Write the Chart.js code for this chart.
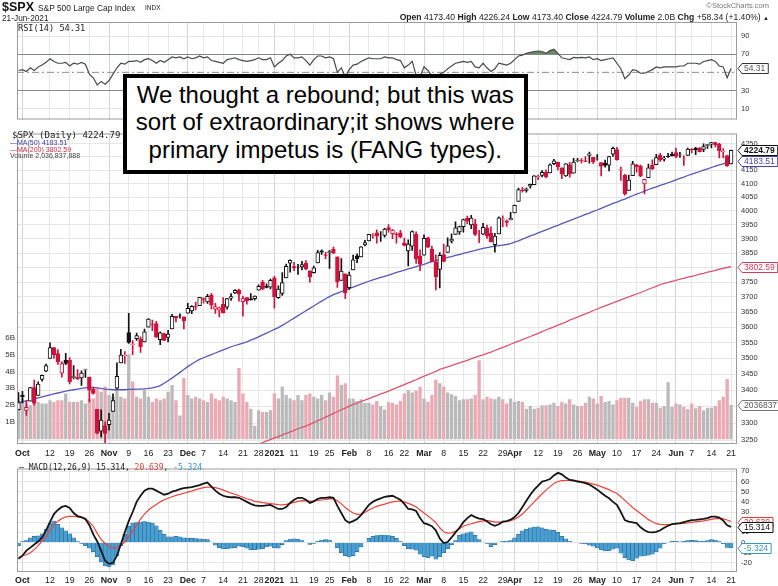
<!DOCTYPE html>
<html>
<head>
<meta charset="utf-8">
<title>$SPX S&amp;P 500 Large Cap Index</title>
<script src="https://cdn.jsdelivr.net/npm/chart.js@4.4.1/dist/chart.umd.min.js"></script>
<style>
  html, body { margin: 0; padding: 0; background: #fff; }
  #page { position: relative; width: 778px; height: 586px; overflow: hidden; font-family: Arial, "Liberation Sans", sans-serif; color: #111; }
  #page canvas { position: absolute; left: 0; }
  .t { position: absolute; white-space: nowrap; line-height: 1; z-index: 2; }
  .mono { font-family: "DejaVu Sans Mono", monospace; }
  #note { position: absolute; left: 122.5px; top: 74px; width: 405.5px; height: 100px; box-sizing: border-box;
          border: 4px solid #000; background: #fff; z-index: 3; color: #000;
          font: 24px Arial, "Liberation Sans", sans-serif; line-height: 27.8px; text-align: center; padding-top: 2.5px; }
</style>
</head>
<body>
<div id="page">
  <canvas id="rsiChart" width="778" height="128" style="top:0"></canvas>
  <canvas id="priceChart" width="778" height="335" style="top:125px"></canvas>
  <canvas id="macdChart" width="778" height="126" style="top:460px"></canvas>

  <div class="t" style="left:2px;top:0px;font:bold 12.5px Arial">$SPX</div>
  <div class="t" style="left:38px;top:2.5px;font:8.4px Arial;color:#222">S&amp;P 500 Large Cap Index</div>
  <div class="t" style="left:145px;top:3.5px;font:6.5px Arial;color:#222">INDX</div>
  <div class="t" style="left:2px;top:12.5px;font:8.3px Arial;color:#222">21-Jun-2021</div>
  <div class="t" style="right:9px;top:1px;font:7.5px Arial;color:#777">&#169;StockCharts.com</div>
  <div class="t" style="right:9px;top:11.5px;font:8.6px Arial;color:#222"><b>Open</b> 4173.40 <b>High</b> 4226.24 <b>Low</b> 4173.40 <b>Close</b> 4224.79 <b>Volume</b> 2.0B <b>Chg</b> +58.34 (+1.40%) <span style="font-size:6px">&#9650;</span></div>

  <div class="t mono" style="left:18px;top:23.5px;font-size:8.6px;color:#222">RSI(14) 54.31</div>

  <div class="t mono" style="left:12px;top:131px;font-size:9px;color:#222">$SPX (Daily) 4224.79</div>
  <div class="t" style="left:10px;top:139px;font:7px Arial;color:#3a3aa8">&#8212;MA(50) 4183.51</div>
  <div class="t" style="left:10px;top:145.5px;font:7px Arial;color:#cc2a4a">&#8212;MA(200) 3802.59</div>
  <div class="t" style="left:10px;top:152px;font:7px Arial;color:#444">Volume 2,036,837,888</div>

  <div class="t mono" style="left:19px;top:463.5px;font-size:8px;color:#222">&#8212; MACD(12,26,9) 15.314, <span style="color:#e0403a">20.639</span>, <span style="color:#3a94c8">-5.324</span></div>

  <div id="note">We thought a rebound; but this was<br>sort of extraordinary;it shows where<br>primary impetus is (FANG types).</div>
</div>

<script>
// trading days 30-Sep-2020 .. 21-Jun-2021, index 0 = 30-Sep
const tickDays   = [1, 8, 13, 18, 23, 28, 33, 38, 43, 47, 52, 57, 61, 65, 70, 75, 79, 84, 89, 94, 98,
                    103, 108, 113, 118, 123, 126, 132, 137, 142, 147, 152, 157, 162, 167, 171, 176, 181];
const tickLabels = ['Oct', '12', '19', '26', 'Nov', '9', '16', '23', 'Dec', '7', '14', '21', '28', '2021', '11', '19', '25', 'Feb', '8', '16', '22',
                    'Mar', '8', '15', '22', '29', 'Apr', '12', '19', '26', 'May', '10', '17', '24', 'Jun', '7', '14', '21'];
const monthLabels = ['Oct', 'Nov', 'Dec', '2021', 'Feb', 'Mar', 'Apr', 'May', 'Jun'];
const priceTicks = [3250, 3300, 3350, 3400, 3450, 3500, 3550, 3600, 3650, 3700, 3750, 3800, 3850, 3900, 3950,
                    4000, 4050, 4100, 4150, 4200, 4250];
const volTicks  = [1, 2, 3, 4, 5, 6];
const rsiTicks  = [10, 30, 50, 70, 90];
const macdTicks = [-20, -10, 0, 10, 20, 30, 40, 50, 60, 70];

const open = [3341.2,3385.9,3338.9,3367.3,3408.7,3384.6,3434.3,3459.7,3500.0,3534.0,
  3515.5,3453.7,3493.5,3493.7,3439.4,3439.9,3438.5,3464.9,3441.4,3403.2,
  3342.5,3277.2,3293.6,3296.2,3336.3,3406.5,3485.7,3508.3,3583.0,3543.3,
  3563.2,3562.7,3552.6,3600.2,3610.3,3612.1,3559.4,3579.3,3566.8,3594.5,
  3635.5,3638.6,3634.2,3645.9,3653.8,3668.3,3670.9,3694.7,3683.1,3706.0,
  3659.1,3656.1,3675.3,3666.4,3696.3,3713.7,3722.4,3684.3,3698.1,3693.4,
  3694.0,3723.0,3750.0,3736.2,3733.3,3764.6,3698.0,3712.2,3764.7,3815.1,
  3803.1,3801.6,3802.2,3815.0,3788.7,3781.9,3816.2,3857.5,3844.2,3851.7,
  3863.0,3836.8,3755.8,3778.1,3731.2,3791.8,3840.3,3836.7,3878.3,3892.6,
  3910.5,3920.8,3916.4,3911.7,3939.6,3918.5,3915.9,3921.2,3885.6,3857.1,
  3873.7,3915.8,3839.7,3842.5,3903.6,3864.0,3818.5,3793.6,3844.4,3851.9,
  3892.0,3915.5,3924.5,3943.0,3973.6,3949.6,3953.5,3913.1,3916.5,3937.6,
  3919.9,3879.3,3917.1,3969.3,3963.3,3967.3,3992.8,4034.4,4075.6,4074.3,
  4090.0,4096.1,4124.7,4130.1,4141.6,4139.8,4174.1,4179.8,4159.2,4128.4,
  4170.5,4138.8,4185.0,4188.3,4185.1,4206.1,4198.1,4192.0,4179.0,4177.1,
  4169.1,4210.3,4228.3,4150.3,4130.6,4075.0,4129.6,4169.9,4165.9,4098.5,
  4122.0,4168.6,4170.2,4205.9,4191.6,4201.9,4210.8,4216.5,4206.8,4191.4,
  4206.1,4229.3,4233.8,4233.0,4228.6,4242.9,4248.3,4255.3,4248.9,4220.4,
  4204.8,4173.4];
const high = [3393.6,3397.2,3369.1,3409.6,3431.6,3426.3,3447.3,3482.3,3549.9,3534.0,
  3527.9,3489.1,3515.8,3502.4,3476.9,3464.9,3460.5,3466.5,3441.4,3409.5,
  3342.5,3341.1,3304.9,3330.1,3389.5,3486.3,3529.1,3521.6,3646.0,3557.2,
  3581.2,3569.0,3593.7,3628.5,3623.1,3619.1,3585.2,3581.2,3589.8,3642.3,
  3635.5,3644.3,3634.2,3678.5,3671.0,3682.7,3699.2,3697.4,3708.5,3712.4,
  3678.5,3665.9,3697.6,3695.3,3711.3,3725.1,3726.7,3702.9,3698.3,3711.2,
  3703.8,3740.5,3756.1,3744.6,3760.2,3770.0,3737.8,3783.0,3811.6,3826.7,
  3817.9,3810.8,3821.0,3823.6,3788.7,3804.5,3859.8,3861.5,3852.3,3859.2,
  3870.9,3836.8,3830.5,3778.1,3784.3,3843.1,3847.5,3872.4,3894.6,3915.8,
  3918.4,3931.5,3926.0,3937.2,3950.4,3933.6,3922.0,3930.4,3902.9,3896.0,
  3928.7,3925.0,3861.1,3914.5,3906.4,3874.5,3843.7,3851.7,3881.1,3903.8,
  3917.4,3960.3,3945.0,3970.1,3981.0,3983.9,3969.6,3930.1,3955.3,3949.1,
  3942.1,3919.5,3978.2,3981.8,3968.0,3994.4,4020.6,4083.4,4086.2,4083.1,
  4098.2,4129.5,4131.8,4148.0,4151.7,4173.5,4191.3,4180.8,4159.2,4175.0,
  4179.6,4194.2,4194.2,4193.4,4201.5,4218.8,4198.1,4209.4,4179.0,4187.7,
  4202.7,4238.0,4236.4,4162.0,4134.7,4131.6,4183.1,4171.9,4169.2,4116.9,
  4172.8,4188.7,4209.5,4213.4,4202.6,4213.4,4218.4,4234.1,4217.4,4204.4,
  4233.5,4232.3,4236.7,4237.1,4249.7,4248.4,4255.6,4257.2,4251.9,4232.3,
  4204.8,4226.24];
const low = [3340.5,3361.4,3323.7,3367.3,3354.5,3384.6,3428.2,3458.1,3499.6,3500.9,
  3480.6,3440.9,3480.5,3419.9,3435.7,3433.1,3415.3,3440.5,3364.9,3388.7,
  3268.9,3259.8,3233.9,3279.7,3336.3,3405.2,3485.7,3484.3,3547.5,3511.9,
  3557.0,3518.6,3552.6,3600.2,3588.7,3567.3,3543.8,3556.9,3552.8,3594.5,
  3617.8,3629.3,3594.4,3645.9,3644.8,3657.2,3670.9,3678.9,3678.8,3660.5,
  3645.2,3633.4,3645.8,3659.6,3688.6,3710.9,3685.8,3636.5,3676.2,3689.3,
  3689.3,3723.0,3723.3,3730.2,3726.9,3662.7,3695.1,3705.3,3764.7,3783.6,
  3789.0,3776.5,3791.5,3792.9,3749.6,3780.4,3816.2,3845.1,3830.4,3797.2,
  3847.8,3732.5,3755.8,3694.1,3725.6,3791.8,3816.7,3836.7,3874.9,3892.6,
  3902.6,3884.9,3890.4,3905.8,3923.9,3900.4,3885.0,3903.1,3874.7,3805.6,
  3859.6,3814.0,3789.5,3842.5,3868.6,3818.9,3723.3,3730.2,3819.3,3851.9,
  3885.7,3915.5,3915.2,3923.5,3953.4,3935.7,3910.9,3886.8,3914.2,3901.8,
  3889.1,3853.5,3917.1,3943.3,3944.4,3967.0,3992.8,4034.4,4068.1,4068.3,
  4082.5,4095.5,4114.8,4124.4,4120.9,4139.8,4170.8,4150.5,4118.4,4126.4,
  4123.7,4138.8,4182.4,4176.2,4181.8,4176.8,4174.9,4188.0,4128.6,4160.9,
  4147.3,4201.6,4188.1,4111.5,4056.9,4075.0,4129.6,4142.7,4126.0,4061.4,
  4122.0,4151.7,4170.2,4182.5,4184.1,4197.8,4203.6,4197.6,4198.3,4167.9,
  4206.1,4215.7,4208.4,4218.7,4220.3,4232.3,4234.1,4238.4,4196.1,4196.1,
  4164.4,4173.4];
const close = [3363.0,3380.8,3348.4,3408.6,3361.0,3419.4,3446.8,3477.1,3534.2,3511.9,
  3488.7,3483.3,3483.8,3426.9,3443.1,3435.6,3453.5,3465.4,3401.0,3390.7,
  3271.0,3310.1,3270.0,3310.2,3369.2,3443.4,3510.5,3509.4,3550.5,3545.5,
  3572.7,3537.0,3585.2,3626.9,3609.5,3567.8,3581.9,3557.5,3577.6,3635.4,
  3629.7,3638.4,3621.6,3662.5,3669.0,3666.7,3699.1,3692.0,3702.3,3672.8,
  3668.1,3663.5,3647.5,3694.6,3701.2,3722.5,3709.4,3694.9,3687.3,3690.0,
  3703.1,3735.4,3727.0,3732.0,3756.1,3700.7,3726.9,3748.1,3803.8,3824.7,
  3799.6,3801.2,3809.8,3795.5,3768.3,3798.9,3851.9,3853.1,3841.5,3855.4,
  3849.6,3750.8,3787.4,3714.2,3773.9,3826.3,3830.2,3871.7,3886.8,3915.6,
  3911.2,3909.9,3916.4,3934.8,3932.6,3931.3,3914.0,3906.7,3876.5,3881.4,
  3925.4,3829.3,3811.2,3901.8,3870.3,3819.7,3768.5,3841.9,3821.4,3875.4,
  3898.8,3939.3,3943.3,3968.9,3962.7,3974.1,3915.5,3913.1,3940.6,3910.5,
  3889.1,3909.5,3974.5,3971.1,3958.6,3972.9,4019.9,4077.9,4073.9,4080.0,
  4097.2,4128.8,4128.0,4141.6,4124.7,4170.4,4185.5,4163.3,4134.9,4173.4,
  4135.0,4180.2,4187.6,4186.7,4183.2,4211.5,4181.2,4192.7,4164.7,4167.6,
  4201.6,4232.6,4188.4,4152.1,4063.0,4112.5,4173.9,4163.3,4127.8,4115.7,
  4159.1,4155.9,4197.1,4188.1,4196.0,4200.9,4204.1,4202.0,4208.1,4192.9,
  4229.9,4226.5,4227.3,4219.6,4239.2,4247.4,4255.2,4246.6,4223.7,4221.9,
  4166.5,4224.79];
// volume, billions of shares
const volume = [2.3,
  2.4,2.1,2.0,2.4,2.2,2.1,2.1,2.3,2.2,2.3,2.3,2.7,2.2,2.2,2.2,2.3,2.1,2.4,2.4,3.0,2.8,3.1,
  2.6,2.5,3.0,2.5,2.4,5.0,3.4,2.5,2.4,2.9,2.5,2.2,2.4,2.3,2.4,2.8,3.2,2.3,1.4,3.6,
  2.6,2.4,2.5,2.4,2.3,2.2,2.7,2.4,2.3,2.5,2.4,2.3,2.2,4.2,2.7,2.2,1.8,0.8,1.7,1.6,1.6,1.7,
  2.7,2.4,3.1,2.6,2.4,2.3,2.6,2.3,2.6,2.7,2.5,2.4,2.6,2.3,2.75,2.5,3.75,3.2,3.3,
  2.4,2.4,2.25,2.35,2.15,2.15,2.05,2.25,1.95,1.75,2.2,2.15,2.05,2.25,2.7,2.9,2.75,2.85,3.1,
  2.4,2.2,2.6,3.5,3.3,3.1,2.75,2.65,2.55,2.3,2.35,2.35,2.4,2.6,4.65,2.35,2.5,2.4,2.35,2.5,2.35,2.1,2.4,
  2.2,2.25,2.2,1.8,1.95,1.8,1.85,2.0,2.0,2.05,2.15,1.95,2.2,2.1,2.35,2.05,1.95,1.95,2.15,2.5,2.4,
  2.1,2.55,2.2,2.25,2.05,2.3,2.45,2.45,2.45,2.15,1.9,2.25,2.35,2.35,2.15,2.15,1.85,1.95,3.35,1.9,
  2.1,2.05,1.9,1.78,2.1,1.82,1.95,1.7,1.85,1.85,1.95,2.3,2.5,3.55,2.036837888];
const ma50 = [3362,3365,3368,3371,3374,3377,3380,3383,3386,3389,3392,3395,3398,3400,3402,3404,3406,3408,3410,
  3409,3408,3406,3404,3403,3402,3402,3402,3402,3403,3403,3404,3404,3405,3406,3408,3411,3415,
  3422,3430,3438,3447,3456,3465,3474,3482,3490,3497,
  3502,3507,3512,3517,3522,3527,3532,3537,3541,3545,3549,3553,3558,
  3563,3569,3575,3581,3587,3593,3599,3606,
  3614,3622,3630,3638,3646,3654,3662,3670,3678,3686,3694,3701,3708,
  3713,3718,3723,3728,3733,3738,3743,3748,3753,3758,3762,3766,3770,
  3774,3778,3783,3787,3791,3795,3799,3803,3807,3811,3816,3820,
  3824,3828,3831,3835,3838,3842,3845,3849,3852,3856,3859,3863,3866,
  3869,3872,3874,3876,3878,3880,3883,
  3888,3893,3899,3904,3910,3915,3921,3926,3932,3937,3943,3948,3954,3959,3965,3970,3976,3981,3987,3992,3998,4003,4009,
  4015,4021,4027,4032,4038,4043,4049,4055,4061,4066,4072,4078,
  4083,4088,4093,4098,4103,4108,4114,4119,4124,4130,4135,4140,4145,
  4150,4155,4160,4165,4170,4174,4179,4183.51];
// MA(200) is below the visible price range before day 55
const ma200Start = 55;
const ma200 = [3210,3215,3220,3225,3229,3234,3239,3243,3248,3252,3257,3261,3266,3270,3275,3279,3284,3288,3292,3297,
  3302,3308,3313,3319,3324,3330,3335,3341,3346,3352,
  3357,3361,3366,3370,3375,3380,3384,3389,3393,3398,
  3403,3408,3413,3418,3423,3428,3433,3439,3444,3449,3454,3459,3465,
  3469,3473,3477,3482,3486,3490,3494,3499,3503,3507,3511,3516,3520,
  3525,3530,3535,3540,3545,3550,3555,3560,3565,3570,3575,3580,3586,
  3591,3596,3601,3607,3612,3617,3623,3628,3633,3639,3644,3649,3655,3660,3665,
  3670,3675,3680,3685,3690,3695,3700,3705,3710,3715,3720,3726,3731,3736,3742,
  3746,3749,3753,3756,3760,3763,3767,3770,3773,3777,3780,3784,3787,3790,3794,3797,3800,3802.59];
const rsi = [52,53,51,55,52,56,58,61,65,62,
  60,60,61,57,60,59,61,59,48,44,
  36,40,37,41,48,55,60,59,62,62,
  63,61,64,65,63,60,63,61,64,67,
  66,67,65,67,65,66,68,66,67,63,
  62,61,60,64,65,66,64,63,62,63,
  64,66,64,64,66,56,60,63,68,70,
  66,66,67,63,58,64,68,68,66,67,
  65,50,55,45,53,58,59,62,64,66,
  65,65,65,67,66,66,64,63,55,58,
  62,47,45,56,52,46,41,48,50,54,
  57,60,61,62,61,62,56,55,60,55,
  51,54,60,59,58,60,64,68,69,71,
  72,73,73.5,73,71,74,75.5,71,66,65,
  64,66.5,66,66.5,66,67,64,65,63,64,
  65,66,60,54,43,47,53,52,49,49,
  51,53,56,55,56,56,56,56,57,57,
  60,60,60,59,62,63,64,62,57,56,
  44,54.31];
const macd = [-16,-13,-8,-5,-2,1,5,12,20,28,
  32,35,36,34,29,26,25,23,17,8,
  1,-8,-18,-21,-20,-13,-2,10,21,30,
  40,46,51,53,53,51,49,47,48,50,
  51,52.5,53.5,54,54.5,55.5,56.5,58,59,55,
  51,48,46,45,44.5,44.5,44,42,40,38,
  36.5,36,36,36.5,37,35,33,33,35,39,
  42,44,44,42,39,40.5,43,44,44,44.5,
  44,36,29,22,19.5,21,23,27,32,37,
  40,42,43.5,45,45.5,46,44,42,38,33,
  32.5,31,24,19,17.8,16,12,4,-0.5,0.5,
  5,10,14.5,20,24,27,25,23.5,23,21,
  18,16.5,18,20.5,21,22.5,25,29,35,41,
  47,52,56,60,61,62.5,66,68.5,67,64,
  61.5,61,60,59.5,58.5,57,54.5,52,49,46,
  43.5,40,37,30,22,20.5,19.8,19,15,12,
  10.3,9.9,10.5,12,14.5,16.5,18,18.5,19,20,
  21,22,22.2,22.7,23.2,24,25.5,25.5,24.5,21.5,
  17,15.314];
const signal = [-15,-13,-12,-10,-7,-3,1.5,6,12,17.5,
  21,23.5,25.3,25.8,25.8,25.3,24.5,23.8,20,16,
  9,3,-1,-4,-5.6,-5.5,-3,0.5,6,11,
  17,23,28,32,35,37.5,40,42,43.5,45,
  46.3,47.3,48.5,49.5,50.5,52,53,54,54.5,54.5,
  54,53,51.5,50,48.5,47.5,46,44.5,43,42,
  40.5,40,39.3,38.8,38.3,37.8,37.2,37,37.5,38.5,
  39.5,40.5,41.2,41,40.8,41,41.3,41.8,42.3,43,
  43,41,38,34.5,31.5,29,27.7,28,29.5,32,
  34,35.5,36.8,37.8,39,40,40.5,41,40,38.5,
  37,35,32,29,26,23,19.5,14.5,10.5,9.3,
  9.5,11,13.5,16,17.5,18.5,19.5,20.5,21.3,21.5,
  21,20,20,20.3,20.7,21.5,23,25,28,32,
  36,40,44,48,51.5,55,58,60,60.8,61,
  61,60.8,60.5,60,59.5,58.5,57.5,56.5,55,53.5,
  52,50,48.4,45,41.5,38,34.5,31.5,28.5,25.5,
  22.5,20.5,18.5,17.8,17.6,17.6,17.8,18.2,18.5,18.8,
  19.2,19.8,20.3,20.8,21.3,22,22.8,23.5,23.8,23.3,
  22.2,20.639];
const hist = [-3,1,2,4.5,6,6.5,8.5,13,19,21,
  18,14.5,11.5,8.5,4.5,1,-1,-3,-5.5,-9,
  -14,-19,-23,-24,-22,-13,-3,8,16,19,
  19.7,20,20.5,20,19,16.5,12,8,5.5,5.5,
  6,5.5,4.5,4.3,4,3.8,3.7,3.3,3,0.5,
  -2.5,-5,-6.2,-6,-5.5,-5,-3.5,-4,-5.5,-7,
  -7,-6.5,-6,-4,-3.5,-5,-5.5,-2,2,3.5,
  3.7,3.3,2,0,-1.8,-1,1.5,2.5,2.8,2.5,
  0,-5,-10,-13,-14.2,-13,-9,-4,0,4,
  6,6.8,7.2,7.4,6.8,6,4,1,-3,-6,
  -6.5,-7.5,-11.5,-14,-14.8,-13.5,-16.4,-14,-10,-6,
  -2,2,7,8.5,9.5,10.5,7,3,0.5,-1,
  -4,-2,0.5,1.2,1.5,2,4.5,8,11.5,13,
  14.5,15.2,15.4,14.5,13,12.5,12,10,6,3.7,
  1.5,0,0,-0.9,-1.5,-2.5,-3.5,-5,-7,-8.2,
  -8,-6.5,-5.6,-10.5,-15,-17,-17.9,-15.5,-13.5,-13.3,
  -12.5,-11.5,-9,-5.5,-1.5,0.5,1.2,1.2,0.6,1.5,
  2,2.2,2,1.5,1.5,2,2.8,2.5,1,-1.5,
  -4.9,-5.324];
const rsiMid = 50, rsiHigh = 70;

// view window on the day axis
const xMin = -0.38, xMax = 182.5;

Chart.defaults.font.family = 'Arial, "Liberation Sans", sans-serif';

const last = a => a[a.length - 1];
const pts = (arr, start = 0) => arr.map((v, i) => ({ x: start + i, y: v }));
const labelOf = v => { const k = tickDays.indexOf(v); return k >= 0 ? tickLabels[k] : ''; };
const isMonth = c => !!(c && c.tick && monthLabels.includes(labelOf(c.tick.value)));

const upDay = close.map((c, i) => i === 0 || c >= close[i - 1]);
const candleColor = upDay.map(u => u ? '#111' : '#d0123c');
const bodyFill = close.map((c, i) => c > open[i] ? '#fff' : candleColor[i]);
const volColor = upDay.map(u => u ? '#bababa' : '#e9aab4');

function xScale(showLabels, height, pad) {
  return {
    type: 'linear', min: xMin, max: xMax, offset: false,
    afterBuildTicks: s => { s.ticks = tickDays.map(v => ({ value: v })); },
    afterFit: s => { s.height = height; },
    grid: { offset: false, drawTicks: false, color: c => isMonth(c) ? '#d4d4d4' : '#e8e8e8' },
    border: { display: false },
    ticks: {
      display: showLabels, autoSkip: false, maxRotation: 0, minRotation: 0, padding: pad, color: '#222',
      font: c => ({ size: 8.8, weight: isMonth(c) ? 'bold' : 'normal' }),
      callback: v => labelOf(v)
    }
  };
}
function yRight(min, max, ticks, gridColor) {
  return {
    position: 'right', min, max,
    afterBuildTicks: s => { s.ticks = ticks.map(v => ({ value: v })); },
    afterFit: s => { s.width = 41; },
    ticks: { autoSkip: false, padding: 4, color: '#333', font: { size: 7.5 }, callback: v => String(v) },
    grid: { drawTicks: false, color: gridColor || '#e6e6e6' },
    border: { display: false }
  };
}

const frame = {
  id: 'frame',
  afterDatasetsDraw(chart) {
    const a = chart.chartArea, ctx = chart.ctx;
    ctx.save();
    ctx.strokeStyle = '#9c9c9c';
    ctx.lineWidth = 1;
    ctx.strokeRect(a.left + 0.5, a.top + 0.5, a.right - a.left - 1, a.bottom - a.top - 1);
    ctx.restore();
  }
};
const badges = {
  id: 'badges',
  afterDraw(chart, args, opts) {
    const ctx = chart.ctx, x0 = chart.chartArea.right + 1;
    (opts.items || []).forEach(b => {
      const y = Math.round(chart.scales[b.axis].getPixelForValue(b.value)) + 0.5;
      ctx.save();
      ctx.font = (b.bold ? 'bold ' : '') + '8.5px Arial, "Liberation Sans", sans-serif';
      const w = ctx.measureText(b.text).width + 5, h = 10;
      ctx.beginPath();
      ctx.moveTo(x0, y);
      ctx.lineTo(x0 + 4, y - h / 2);
      ctx.lineTo(x0 + 4 + w, y - h / 2);
      ctx.lineTo(x0 + 4 + w, y + h / 2);
      ctx.lineTo(x0 + 4, y + h / 2);
      ctx.closePath();
      ctx.fillStyle = '#fff';
      ctx.fill();
      ctx.strokeStyle = b.color;
      ctx.lineWidth = 1;
      ctx.stroke();
      ctx.fillStyle = b.textColor || b.color;
      ctx.textBaseline = 'middle';
      ctx.fillText(b.text, x0 + 6, y + 0.5);
      ctx.restore();
    });
  }
};
const base = { responsive: false, animation: false, events: [] };

// RSI panel
new Chart(document.getElementById('rsiChart'), {
  type: 'line',
  data: {
    datasets: [
      { data: pts(rsi), borderColor: '#4a4a4a', borderWidth: 1.2, pointRadius: 0, tension: 0,
        fill: { target: { value: rsiHigh }, above: 'rgba(88,124,88,0.9)', below: 'rgba(0,0,0,0)' } },
      { data: [{ x: xMin, y: rsiMid }, { x: xMax, y: rsiMid }], borderColor: '#8c8c8c', borderWidth: 1,
        borderDash: [7, 3, 2, 3], pointRadius: 0, fill: false }
    ]
  },
  options: Object.assign({}, base, {
    layout: { padding: { top: 22, left: 17, bottom: 1, right: 0 } },
    plugins: { legend: { display: false }, tooltip: { enabled: false },
      badges: { items: [{ axis: 'y', value: last(rsi), text: last(rsi).toFixed(2), color: '#333', textColor: '#555' }] } },
    scales: {
      x: xScale(false, 0, 0),
      y: yRight(-2, 105.5, rsiTicks, c => {
        const v = c.tick && c.tick.value;
        return v === 30 || v === 70 ? '#8a8a8a' : (v === rsiMid ? 'rgba(0,0,0,0)' : '#e6e6e6');
      })
    }
  }),
  plugins: [frame, badges]
});

// price panel: candles, moving averages, volume
new Chart(document.getElementById('priceChart'), {
  type: 'bar',
  data: {
    datasets: [
      { type: 'bar', label: 'Body', data: close.map((c, i) => ({ x: i, y: [open[i], c] })),
        backgroundColor: bodyFill, borderColor: candleColor, borderWidth: 1, borderSkipped: false,
        barThickness: 3.8, grouped: false, order: 1 },
      { type: 'bar', label: 'Range', data: close.map((c, i) => ({ x: i, y: [low[i], high[i]] })),
        backgroundColor: candleColor, borderWidth: 0, barThickness: 1, grouped: false, order: 2 },
      { type: 'line', label: 'MA(50)', data: pts(ma50), borderColor: '#5858b4', borderWidth: 1.3,
        pointRadius: 0, order: 3 },
      { type: 'line', label: 'MA(200)', data: pts(ma200, ma200Start), borderColor: '#da5570', borderWidth: 1.3,
        pointRadius: 0, order: 4 },
      { type: 'bar', label: 'Volume', yAxisID: 'yv', data: pts(volume), backgroundColor: volColor,
        borderWidth: 0, barPercentage: 0.84, categoryPercentage: 1, grouped: false, order: 5 }
    ]
  },
  options: Object.assign({}, base, {
    layout: { padding: { top: 3, left: 0, bottom: 0, right: 0 } },
    plugins: { legend: { display: false }, tooltip: { enabled: false },
      badges: { items: [
        { axis: 'yv', value: last(volume), text: String(Math.floor(last(volume) * 1e6)), color: '#777', textColor: '#555' },
        { axis: 'y', value: last(ma200), text: last(ma200).toFixed(2), color: '#d23a58' },
        { axis: 'y', value: last(ma50), text: last(ma50).toFixed(2), color: '#4545a8' },
        { axis: 'y', value: last(close), text: last(close).toFixed(2), color: '#111', bold: true }
      ] } },
    scales: {
      x: xScale(true, 16, 4),
      y: Object.assign(yRight(3239, 4290, priceTicks), { type: 'logarithmic' }),
      yv: {
        type: 'linear', position: 'left', min: -0.28, max: 18,
        afterBuildTicks: s => { s.ticks = volTicks.map(v => ({ value: v })); },
        afterFit: s => { s.width = 17; },
        ticks: { autoSkip: false, padding: 2, color: '#333', font: { size: 8 }, callback: v => v + 'B' },
        grid: { display: false, drawTicks: false },
        border: { display: false }
      }
    }
  }),
  plugins: [frame, badges]
});

// MACD panel
new Chart(document.getElementById('macdChart'), {
  type: 'bar',
  data: {
    datasets: [
      { type: 'line', label: 'MACD', data: pts(macd), borderColor: '#151515', borderWidth: 1.8, pointRadius: 0, order: 1 },
      { type: 'line', label: 'Signal', data: pts(signal), borderColor: '#e8453e', borderWidth: 1.2, pointRadius: 0, order: 2 },
      { type: 'bar', label: 'Histogram', data: pts(hist), backgroundColor: '#4a9fd2', borderColor: '#235f86',
        borderWidth: 0.5, barPercentage: 1, categoryPercentage: 1, grouped: false, order: 3 }
    ]
  },
  options: Object.assign({}, base, {
    layout: { padding: { top: 2, left: 17, bottom: 0, right: 0 } },
    plugins: { legend: { display: false }, tooltip: { enabled: false },
      badges: { items: [
        { axis: 'y', value: last(hist), text: last(hist).toFixed(3), color: '#3a94c8' },
        { axis: 'y', value: last(signal), text: last(signal).toFixed(3), color: '#e0403a' },
        { axis: 'y', value: last(macd), text: last(macd).toFixed(3), color: '#111' }
      ] } },
    scales: {
      x: xScale(true, 14, 3),
      y: yRight(-29, 72.8, macdTicks)
    }
  }),
  plugins: [frame, badges]
});
</script>
</body>
</html>
